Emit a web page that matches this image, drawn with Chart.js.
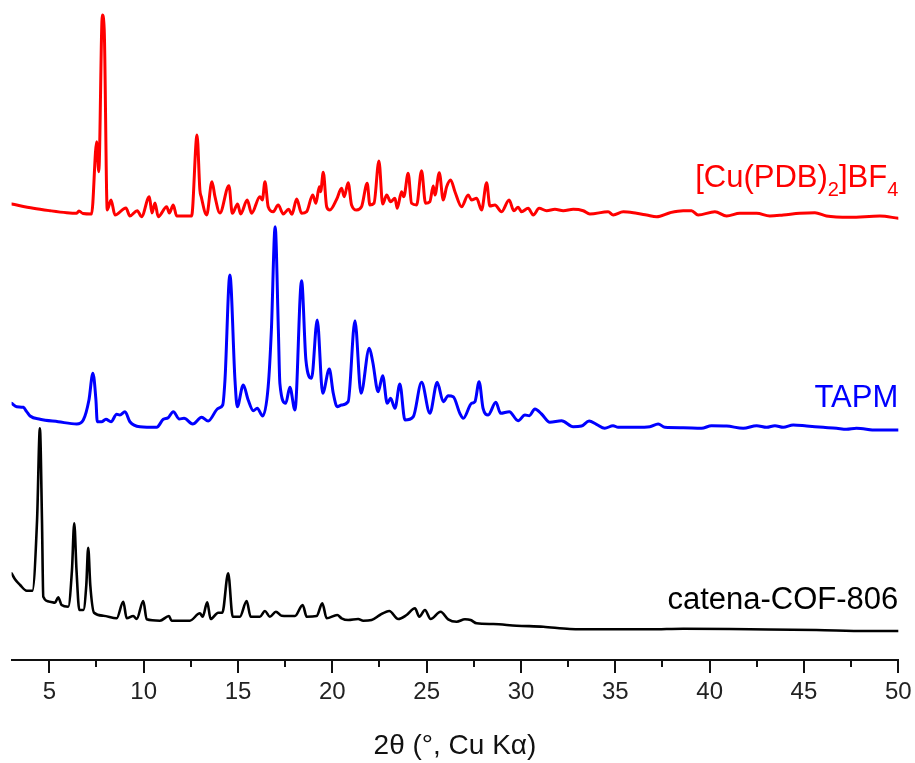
<!DOCTYPE html>
<html>
<head>
<meta charset="utf-8">
<script src="https://cdn.jsdelivr.net/npm/chart.js@4/dist/chart.umd.min.js"></script>
<style>
  html, body { margin: 0; padding: 0; background: #fff; }
  #wrap { width: 915px; height: 763px; }
</style>
</head>
<body>
<div id="wrap"><canvas id="xrd" width="915" height="763"></canvas></div>
<script>
// x tick values (2theta, degrees)
const majorTicks = [5, 10, 15, 20, 25, 30, 35, 40, 45, 50];
const minorTicks = [7.5, 12.5, 17.5, 22.5, 27.5, 32.5, 37.5, 42.5, 47.5];

const seriesNames = ["[Cu(PDB)2]BF4", "TAPM", "catena-COF-806"];

// patterns as plotted (stacked, arbitrary intensity units): [2theta, intensity]
const cuPattern = [
  [3.0,456],[4.15,451.7],[5.03,449.3],[5.92,447.3],[6.45,446.7],[6.57,449],[6.78,446.5],[7.24,446],[7.51,518.3],[7.62,488.3],[7.81,645],[7.91,630],
  [8.07,450],[8.27,460],[8.48,445],[9.06,452],[9.27,444],[9.66,449.3],[9.89,443.3],[10.30,463.3],[10.44,447],
  [10.60,457],[10.77,443.3],[11.22,453.3],[11.36,447],[11.57,455],[11.75,444],[12.54,444],[12.83,525],[12.98,470],
  [13.05,463.3],[13.34,445],[13.62,478.3],[13.78,463.3],[14.04,447],[14.52,474.3],[14.70,446.7],[14.98,456],
  [15.14,446],[15.49,460],[15.72,446.7],[16.16,463.3],[16.29,460],[16.43,478.3],[16.60,453.3],[16.87,448.3],
  [17.13,455],[17.40,446],[17.68,450.7],[17.86,445.7],[18.11,461],[18.37,446.7],[18.64,448.3],[18.96,465],
  [19.13,456.7],[19.31,473.3],[19.38,468.3],[19.52,487.7],[19.70,453.3],[19.87,450],[20.23,460.7],[20.49,471.7],
  [20.63,463.3],[20.84,477.3],[21.02,455],[21.29,450],[21.55,453.3],[21.85,476.7],[21.99,455],[22.21,456.7],
  [22.47,499],[22.67,456],[22.88,465],[23.09,458.3],[23.32,461.7],[23.44,451.7],[23.67,468.3],[23.79,463.3],
  [24.02,486.7],[24.20,456.7],[24.47,455],[24.73,489.3],[24.94,456.7],[25.17,458.3],[25.35,474],[25.44,465],
  [25.67,487.3],[25.88,460],[26.06,473.3],[26.27,480],[26.50,468.3],[26.85,453.3],[27.20,465],[27.38,460],
  [27.65,461.7],[27.91,450],[28.18,477.3],[28.35,454],[28.62,455],[28.97,448.3],[29.37,460],[29.62,449.3],
  [29.85,452.7],[30.03,448.3],[30.38,451.7],[30.65,445],[30.96,451.7],[31.36,449.3],[31.80,450.7],[32.24,449.3],
  [32.77,450.7],[33.30,449.3],[33.65,446],[34.62,448.3],[34.89,445],[35.42,448.3],[36.13,446.7],[36.66,445],
  [37.19,443.3],[37.90,447.3],[38.60,449.3],[39.04,449.3],[39.39,445],[40.28,448.3],[40.90,444],[41.60,446.7],
  [42.49,446.7],[43.19,444],[43.90,445],[44.78,446.7],[45.58,447.3],[46.19,444],[47.43,442.7],[49.02,444],[50,441.7]
];

const tapmPattern = [
  [3.0,256.7],[3.27,253.3],[3.62,252.7],[3.80,248.3],[3.98,244],[4.51,240.7],[5.47,238.3],[6.45,236],[6.80,240],[7.10,260],
  [7.31,286.7],[7.47,260],[7.54,238.3],[7.77,238.3],[8.00,240.7],[8.27,238.3],[8.57,245.7],[8.74,245],[9.01,248.3],
  [9.27,238.3],[9.80,233.3],[10.69,232.7],[11.04,240.7],[11.30,242.3],[11.57,248.3],[11.89,241],[12.14,241.7],
  [12.60,236],[13.07,242.7],[13.42,239],[13.95,251.7],[14.19,255],[14.31,280],[14.57,385],[14.84,280],[14.96,253.3],
  [15.28,275],[15.54,260],[15.81,249.3],[16.02,251.7],[16.31,244],[16.60,273.3],[16.77,330],[16.97,433.3],
  [17.14,330],[17.22,276.7],[17.53,256.7],[17.75,272.7],[18.02,250],[18.37,379.3],[18.60,300],[18.90,281.7],
  [19.20,340],[19.49,266.7],[19.84,291],[20.05,266.7],[20.26,253.3],[20.49,255],[20.84,258.3],[21.20,339.3],
  [21.52,266.7],[21.96,311.7],[22.14,298.3],[22.43,268.3],[22.67,284.3],[22.91,256.7],[23.09,261.7],[23.32,251.7],
  [23.58,276],[23.85,240],[24.29,243.3],[24.73,277.7],[25.17,246.7],[25.56,277.7],[25.88,258.3],[26.14,264.3],
  [26.41,263.3],[26.76,246.7],[26.94,241.7],[27.38,256.7],[27.56,258.3],[27.78,278.3],[27.99,251.7],[28.26,245],
  [28.67,257.7],[28.92,246.7],[29.38,248.3],[29.85,239.3],[30.21,245],[30.44,244.3],[30.74,251],[31.09,246],
  [31.53,237.7],[32.15,239.3],[32.77,233.3],[33.21,234],[33.61,239],[34.00,235.7],[34.44,231.7],[34.88,234.3],
  [35.15,232.7],[36.13,232.7],[36.83,233.3],[37.27,236],[37.63,232.7],[38.60,232.3],[39.57,231.7],[40.10,234.3],
  [40.90,234],[41.78,231.7],[42.49,234.3],[43.02,232.7],[43.46,234.3],[43.90,232.7],[44.43,235],[45.14,234],
  [46.02,232.7],[46.73,231.7],[47.25,230.7],[47.78,231.7],[48.84,230],[50,230]
];

const cofPattern = [
  [3.0,86.7],[3.18,80.7],[3.45,75],[3.80,69.3],[4.10,69.3],[4.35,140],[4.50,231.7],[4.61,140],[4.68,63.3],[5.03,58.3],
  [5.30,57.3],[5.47,62.7],[5.65,55],[6.00,53.3],[6.20,90],[6.32,136.7],[6.44,90],[6.59,50],[6.80,50],[6.96,75],
  [7.06,112.3],[7.17,75],[7.37,47.3],[7.86,44.3],[8.57,41.7],[8.92,58.3],[9.10,41.7],[9.45,44],[9.63,41],
  [9.98,59],[10.16,40.7],[10.86,39.3],[11.34,44],[11.48,39.3],[12.45,39.3],[12.98,46.7],[13.13,43.3],[13.37,57.7],
  [13.55,41],[13.95,47.3],[14.17,47.3],[14.48,86.7],[14.72,43.3],[15.10,43.3],[15.46,59],[15.67,43.3],[16.16,43.3],
  [16.43,49],[16.69,43.3],[17.01,48.3],[17.31,44.3],[18.02,44],[18.43,55],[18.64,43.3],[19.17,44],[19.47,56.7],
  [19.70,41.7],[20.26,45],[20.49,41.7],[20.84,40],[21.37,41],[21.64,39.3],[22.08,40],[22.52,45],[23.02,49],
  [23.49,41],[23.94,45],[24.38,51.7],[24.61,43.3],[24.91,50],[25.21,41],[25.74,48.3],[26.14,40.7],[26.59,38.3],
  [27.03,40.7],[27.33,40],[27.65,36.7],[28.53,36],[29.77,34.3],[31.18,33.3],[32.59,31],[34.18,30.7],[36.83,30.7],
  [38.60,31.3],[42.13,30.7],[45.66,30],[48.31,29],[50,29]
];

const toPoints = arr => arr.map(p => ({ x: p[0], y: p[1] }));

const labelFont = "'Liberation Sans', Arial, sans-serif";

// draws the outward tick marks (major + minor) along the x axis
const tickMarks = {
  id: 'tickMarks',
  afterDraw(chart) {
    const { ctx, scales: { x } } = chart;
    const top = chart.chartArea.bottom;
    ctx.save();
    ctx.strokeStyle = '#111';
    ctx.lineWidth = 2;
    ctx.beginPath();
    majorTicks.forEach(v => {
      const px = Math.round(x.getPixelForValue(v));
      ctx.moveTo(px, top); ctx.lineTo(px, top + 13);
    });
    minorTicks.forEach(v => {
      const px = Math.round(x.getPixelForValue(v));
      ctx.moveTo(px, top); ctx.lineTo(px, top + 7);
    });
    ctx.stroke();
    ctx.restore();
  }
};

// series names at the right end of each trace, with subscripts
const seriesLabels = {
  id: 'seriesLabels',
  afterDatasetsDraw(chart, args, opts) {
    const { ctx, scales: { x, y } } = chart;
    const right = x.getPixelForValue(50);
    ctx.save();
    ctx.textBaseline = 'alphabetic';
    ctx.textAlign = 'left';
    opts.items.forEach(item => {
      const segs = item.subs ? item.subs : [[item.name, false]];
      let w = 0;
      segs.forEach(([t, sub]) => {
        ctx.font = (sub ? opts.subSize : opts.size) + 'px ' + labelFont;
        w += ctx.measureText(t).width;
      });
      let cx = right - w;
      const base = y.getPixelForValue(item.at);
      ctx.fillStyle = item.color;
      segs.forEach(([t, sub]) => {
        ctx.font = (sub ? opts.subSize : opts.size) + 'px ' + labelFont;
        ctx.fillText(t, cx, base + (sub ? opts.subDrop : 0));
        cx += ctx.measureText(t).width;
      });
    });
    ctx.restore();
  }
};

const colors = ['#ff0000', '#0000ff', '#000000'];
const patterns = [cuPattern, tapmPattern, cofPattern];

new Chart(document.getElementById('xrd'), {
  type: 'line',
  data: {
    datasets: patterns.map((p, i) => ({
      label: seriesNames[i],
      data: toPoints(p),
      borderColor: colors[i],
      borderWidth: i === 2 ? 2.6 : 3,
      borderJoinStyle: 'round',
      borderCapStyle: 'round',
      pointRadius: 0,
      cubicInterpolationMode: 'monotone',
      fill: false
    }))
  },
  options: {
    responsive: false,
    animation: false,
    devicePixelRatio: 1,
    layout: { padding: { left: 11.6, right: 16.7, top: 10, bottom: 0 } },
    plugins: {
      legend: { display: false },
      tooltip: { enabled: false },
      seriesLabels: {
        size: 31, subSize: 20, subDrop: 9,
        items: [
          { name: seriesNames[0], at: 473, color: colors[0],
            subs: [['[Cu(PDB)', false], ['2', true], [']BF', false], ['4', true]] },
          { name: seriesNames[1], at: 253, color: colors[1] },
          { name: seriesNames[2], at: 51, color: colors[2] }
        ]
      }
    },
    scales: {
      x: {
        type: 'linear',
        min: 3,
        max: 50,
        afterBuildTicks: s => { s.ticks = majorTicks.map(v => ({ value: v })); },
        afterFit: s => { s.height = 103; },
        grid: { display: false, drawTicks: true, tickLength: 18 },
        border: { display: true, color: '#111', width: 2 },
        ticks: {
          padding: 0,
          maxRotation: 0,
          autoSkip: false,
          color: '#222',
          font: { size: 24, family: labelFont }
        },
        title: {
          display: true,
          text: '2\u03B8 (\u00B0, Cu K\u03B1)',
          color: '#111',
          padding: { top: 0, bottom: 0 },
          font: { size: 28, family: labelFont }
        }
      },
      y: {
        display: false,
        min: 0,
        max: 650
      }
    }
  },
  plugins: [tickMarks, seriesLabels]
});
</script>
</body>
</html>
